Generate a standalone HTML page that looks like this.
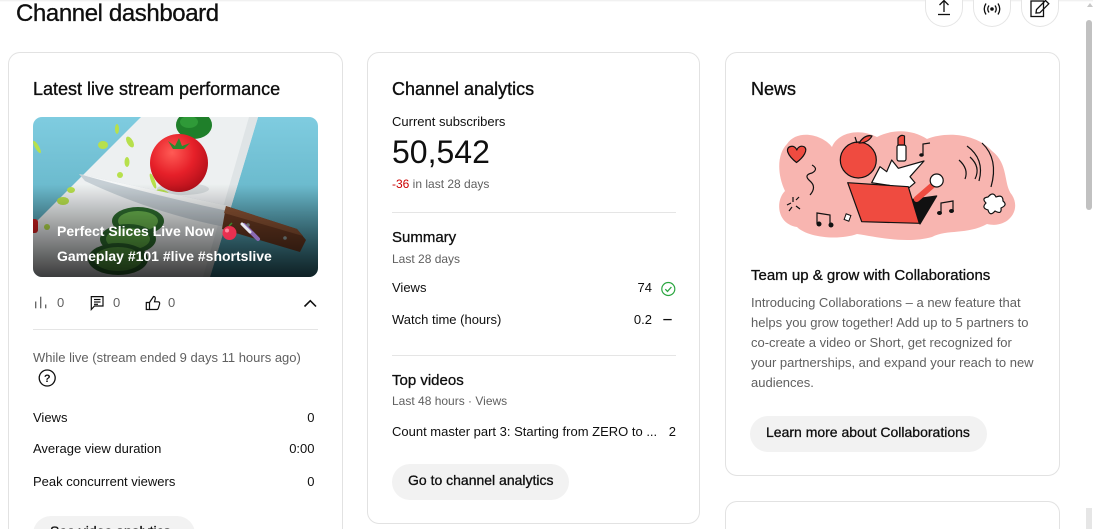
<!DOCTYPE html>
<html><head><meta charset="utf-8">
<style>
*{margin:0;padding:0;box-sizing:border-box}
html,body{width:1093px;height:529px;overflow:hidden;background:#fff}
body{font-family:"Liberation Sans",Arial,sans-serif;color:#0f0f0f}
#root{position:relative;width:1093px;height:529px;overflow:hidden;background:#fff}
.a{position:absolute;white-space:nowrap}
.card{position:absolute;border:1px solid #e2e2e2;border-radius:12px;background:#fff}
.h18{font-size:18px;line-height:24px;-webkit-text-stroke:0.35px #0f0f0f}
.t13{font-size:13px;line-height:20px}
.t12{font-size:12px;line-height:16px;color:#606060}
.s13{font-size:13px;line-height:20px;color:#606060}
.h15{font-size:15px;line-height:20px;-webkit-text-stroke:0.3px #0f0f0f}
.btn{position:absolute;background:#f2f2f2;border-radius:18px;height:36px}
.bt{font-size:14px;line-height:20px;-webkit-text-stroke:0.3px #0f0f0f}
.hr{position:absolute;height:1px;background:#e5e5e5}
.r{text-align:right}
.circ{position:absolute;width:38px;height:27px;border-radius:0 0 19px 19px;border:1px solid #e5e5e5;border-top:none;background:#fff;top:0}
</style></head><body><div id="root">

<!-- header -->
<div class="a" style="left:0;top:0;width:1093px;height:2px;background:linear-gradient(#ececec,#fff)"></div>
<div class="a" style="left:16px;top:0;height:29px;overflow:hidden;width:230px"><div class="a" style="left:0;top:-1.3px;font-size:24px;line-height:30px;letter-spacing:-0.4px;-webkit-text-stroke:0.3px #0f0f0f">Channel dashboard</div></div>

<div class="circ" style="left:925px"></div>
<div class="circ" style="left:973px"></div>
<div class="circ" style="left:1021px"></div>
<svg class="a" style="left:925px;top:0" width="140" height="28" viewBox="925 0 140 28">
  <g fill="none" stroke="#0f0f0f" stroke-width="1.3">
    <line x1="944" y1="1" x2="944" y2="12"/>
    <polyline points="939.5,5 944,0.5 948.5,5"/>
    <line x1="938" y1="14.5" x2="950" y2="14.5"/>
    <path d="M986,3.5 Q982.5,9 986,14.5"/>
    <path d="M989,5.5 Q986.5,9 989,12.5"/>
    <path d="M998,3.5 Q1001.5,9 998,14.5"/>
    <path d="M995,5.5 Q997.5,9 995,12.5"/>
    <rect x="1031" y="1" width="12.5" height="15.5"/>
    <path d="M1036,13 L1036.5,9.5 L1045.5,0.5 L1048.8,3.8 L1039.8,12.8 Z"/>
  </g>
  <circle cx="992" cy="9" r="1.8" fill="#0f0f0f"/>
</svg>

<!-- scrollbar -->
<div class="a" style="left:1087px;top:3px;width:0;height:0;border-left:3px solid transparent;border-right:3px solid transparent;border-bottom:4px solid #c8c8c8"></div>
<div class="a" style="left:1086px;top:20px;width:6px;height:190px;border-radius:3px;background:#c1c1c1"></div>
<div class="a" style="left:1086px;top:508px;width:6px;height:21px;background:#e6e6e6"></div>

<!-- CARD 1 -->
<div class="card" style="left:8px;top:52px;width:335px;height:478px;border-bottom:none;border-radius:12px 12px 0 0"></div>
<div class="a h18" style="left:33px;top:77px">Latest live stream performance</div>

<svg class="a" style="left:33px;top:117px" width="285" height="160" viewBox="0 0 285 160">
<defs>
<clipPath id="cl"><rect width="285" height="160" rx="9"/></clipPath>
<linearGradient id="sky" x1="0" y1="0" x2="0" y2="1">
<stop offset="0" stop-color="#7fcce0"/><stop offset="0.45" stop-color="#6bbacd"/><stop offset="1" stop-color="#3d8594"/></linearGradient>
<linearGradient id="ov" x1="0" y1="0" x2="0" y2="1"><stop offset="0.42" stop-color="#000" stop-opacity="0"/><stop offset="1" stop-color="#000" stop-opacity="0.75"/></linearGradient>
<radialGradient id="tom" cx="0.38" cy="0.32" r="0.7"><stop offset="0" stop-color="#ff5b55"/><stop offset="0.55" stop-color="#e62029"/><stop offset="1" stop-color="#b5101a"/></radialGradient>
</defs>
<g clip-path="url(#cl)">
<rect width="285" height="160" fill="url(#sky)"/>
<polygon points="108,0 225,0 177,160 -52,160" fill="#edf0f1"/>
<polygon points="225,0 177,160 170,160 216,0" fill="#dfe4e6"/>
<ellipse cx="161" cy="8" rx="18" ry="14" fill="#1f7f2a"/>
<ellipse cx="156" cy="5" rx="9" ry="6" fill="#2f9a38"/>
<ellipse cx="150" cy="72" rx="26" ry="6" fill="#d5dadc"/>
<circle cx="146" cy="46" r="29" fill="url(#tom)"/>
<path d="M135,24 L142,29 L146,21 L149,29 L157,26 L151,32 L140,32 Z" fill="#2a8a2e"/>
<g fill="#b7e04c">
<ellipse cx="70" cy="28" rx="5" ry="4"/>
<ellipse cx="97" cy="25" rx="3" ry="6" transform="rotate(-30 97 25)"/>
<ellipse cx="84" cy="12" rx="2" ry="5"/>
<ellipse cx="94" cy="45" rx="2.5" ry="5"/>
<ellipse cx="87" cy="58" rx="3" ry="3"/>
<ellipse cx="30" cy="84" rx="6" ry="4"/>
<ellipse cx="38" cy="73" rx="4" ry="3"/>
<ellipse cx="4" cy="30" rx="2" ry="7" transform="rotate(-30 4 30)"/>
<ellipse cx="14" cy="110" rx="3" ry="3"/>
<ellipse cx="120" cy="64" rx="2" ry="8" transform="rotate(-20 120 64)"/>
<ellipse cx="130" cy="76" rx="7" ry="3" transform="rotate(20 130 76)"/>
</g>
<rect x="-3" y="102" width="8" height="14" rx="3" fill="#d32020"/>
<g>
<ellipse cx="105" cy="104" rx="26" ry="14" fill="#2e6e2f"/>
<ellipse cx="105" cy="104" rx="20" ry="10" fill="#6bb64f"/>
<ellipse cx="95" cy="122" rx="28" ry="15" fill="#2e6e2f"/>
<ellipse cx="95" cy="122" rx="22" ry="11" fill="#5fae46"/>
<ellipse cx="85" cy="142" rx="30" ry="16" fill="#2b672c"/>
<ellipse cx="85" cy="142" rx="24" ry="12" fill="#58a543"/>
</g>
<path d="M46,57 L196,89 L192,110 Q120,96 52,64 Z" fill="#c6cfd5"/>
<path d="M46,57 L196,89 L195,94 Q120,78 46,57 Z" fill="#f4f6f7"/>
<polygon points="193,89 264,112 273,123 267,135 189,112" fill="#6b3a22"/>
<polygon points="193,89 264,112 270,119 191,96" fill="#8a5233"/>
<circle cx="215" cy="108" r="1.8" fill="#9aa"/>
<circle cx="252" cy="121" r="1.8" fill="#9aa"/>
<rect width="285" height="160" fill="url(#ov)"/>
</g>
</svg>
<div class="a" style="left:57px;top:219.3px;font-size:14px;line-height:25px;font-weight:bold;color:#fff">Perfect Slices Live Now<br>Gameplay #101 #live #shortslive</div>
<svg class="a" style="left:220px;top:222px" width="44" height="20" viewBox="0 0 44 20">
<circle cx="9.5" cy="11" r="7" fill="#e83050"/>
<circle cx="7" cy="8.5" r="2" fill="#ff8aa0"/>
<path d="M9,4 L12,1" stroke="#3a8a2a" stroke-width="1.5"/>
<path d="M24,3 L38,17" stroke="#8a6ab5" stroke-width="4" stroke-linecap="round"/>
<path d="M22,2 L30,10" stroke="#e8e8f0" stroke-width="3" stroke-linecap="round"/>
</svg>

<svg class="a" style="left:30px;top:292px" width="290" height="20" viewBox="30 292 290 20">
<g stroke="#606060" stroke-width="1.3">
<line x1="35.7" y1="301.5" x2="35.7" y2="308.3"/>
<line x1="40.7" y1="296.7" x2="40.7" y2="308.3"/>
<line x1="45.7" y1="304.5" x2="45.7" y2="308.3"/>
</g>
<g fill="none" stroke="#0f0f0f" stroke-width="1.2">
<path d="M91.3,296.6 H103 V306 H94.5 L91.3,309.5 Z"/>
<line x1="94" y1="299.5" x2="100.5" y2="299.5"/>
<line x1="94" y1="302" x2="100.5" y2="302"/>
<line x1="94" y1="304.3" x2="98" y2="304.3"/>
<path d="M146.3,302.5 H149.5 V309.5 H146.3 Z"/>
<path d="M149.5,302.5 L153.5,296.5 Q155.6,296.3 155.2,299 L154.5,301.8 H158.5 Q160,302.2 159.6,304 L158.2,308.5 Q157.7,309.6 156.5,309.5 H149.5"/>
<polyline points="304.5,306.5 310.3,300.7 316,306.5" stroke-width="1.6"/>
</g>
</svg>
<div class="a t13" style="left:57px;top:293px;color:#606060">0</div>
<div class="a t13" style="left:113px;top:293px;color:#606060">0</div>
<div class="a t13" style="left:168px;top:293px;color:#606060">0</div>

<div class="hr" style="left:33px;top:329px;width:285px"></div>
<div class="a s13" style="left:33px;top:347.5px">While live (stream ended 9 days 11 hours ago)</div>
<svg class="a" style="left:37px;top:368px" width="20" height="20" viewBox="37 368 20 20">
<circle cx="47.2" cy="378" r="8" fill="none" stroke="#0f0f0f" stroke-width="1.3"/>
<text x="47.2" y="382" font-family="Liberation Sans, Arial, sans-serif" font-size="11" font-weight="bold" text-anchor="middle" fill="#0f0f0f">?</text>
</svg>

<div class="a t13" style="left:33px;top:407.5px">Views</div>
<div class="a t13 r" style="left:214px;top:407.5px;width:100.5px">0</div>
<div class="a t13" style="left:33px;top:439px">Average view duration</div>
<div class="a t13 r" style="left:214px;top:439px;width:100.5px">0:00</div>
<div class="a t13" style="left:33px;top:471.5px">Peak concurrent viewers</div>
<div class="a t13 r" style="left:214px;top:471.5px;width:100.5px">0</div>
<div class="a" style="left:33px;top:516px;width:162px;height:13px;overflow:hidden">
  <div class="btn" style="left:0;top:0;width:162px"></div>
  <div class="a bt" style="left:17px;top:5px">See video analytics</div>
</div>

<!-- CARD 2 -->
<div class="card" style="left:367px;top:52px;width:333px;height:472px"></div>
<div class="a h18" style="left:392px;top:77px">Channel analytics</div>
<div class="a t13" style="left:392px;top:111.5px">Current subscribers</div>
<div class="a" style="left:392px;top:131.9px;font-size:32px;line-height:40px">50,542</div>
<div class="a t12" style="left:392px;top:175.8px"><span style="color:#cc0000">-36</span> in last 28 days</div>
<div class="hr" style="left:392px;top:212px;width:284px"></div>
<div class="a h15" style="left:392px;top:227.8px">Summary</div>
<div class="a t12" style="left:392px;top:250.8px">Last 28 days</div>
<div class="a t13" style="left:392px;top:277.5px">Views</div>
<div class="a t13 r" style="left:600px;top:277.5px;width:52px">74</div>
<div class="a t13" style="left:392px;top:309.8px">Watch time (hours)</div>
<div class="a t13 r" style="left:600px;top:309.8px;width:52px">0.2</div>
<svg class="a" style="left:660px;top:280px" width="18" height="45" viewBox="660 280 18 45">
<circle cx="668.3" cy="289" r="6.5" fill="none" stroke="#2ba640" stroke-width="1.2"/>
<polyline points="665.3,289.2 667.5,291.4 671.4,287" fill="none" stroke="#2ba640" stroke-width="1.3"/>
<line x1="663.3" y1="319.6" x2="671.7" y2="319.6" stroke="#0f0f0f" stroke-width="1.3"/>
</svg>
<div class="hr" style="left:392px;top:355px;width:284px"></div>
<div class="a h15" style="left:392px;top:370.5px">Top videos</div>
<div class="a t12" style="left:392px;top:393px">Last 48 hours · Views</div>
<div class="a t13" style="left:392px;top:421.5px">Count master part 3: Starting from ZERO to ...</div>
<div class="a t13 r" style="left:640px;top:421.5px;width:36px">2</div>
<div class="btn" style="left:392px;top:464px;width:177px"></div>
<div class="a bt" style="left:408px;top:470px">Go to channel analytics</div>

<!-- CARD 3 -->
<div class="card" style="left:725px;top:52px;width:335px;height:424px"></div>
<div class="a h18" style="left:751px;top:77px">News</div>
<svg class="a" style="left:777px;top:129px" width="240" height="112" viewBox="0 0 240 112">
<path d="M10,15 C20,0 45,5 55,18 C60,5 80,-2 100,8 C115,0 135,0 150,10 C170,2 200,5 215,22 C232,35 226,55 235,66 C245,82 230,100 210,95 C190,106 170,100 155,108 C130,115 100,108 80,105 C60,112 30,108 20,98 C0,95 -2,72 8,62 C0,45 0,25 10,15 Z" fill="#f8b5b0"/>
<g stroke="#111" stroke-width="1.2" stroke-linejoin="round">
<path d="M19.5,33.5 C10,26 8,19 13.5,17.5 C17,16.5 19,19 19.8,21 C21,18 24,16 27.5,18 C31,21 27,28 19.5,33.5 Z" fill="#ef4b40"/>
<circle cx="81.3" cy="31" r="18" fill="#ef4b40"/>
<path d="M82,14 Q88,5 95,7 Q91,14 82,14 Z" fill="#ef4b40"/>
<path d="M80,14 L78,8" fill="none"/>
<rect x="120" y="16" width="9" height="16" rx="2" fill="#fff"/>
<path d="M121,16 L121,9 Q124,5 127.5,7 L127.5,16 Z" fill="#ef4b40"/>
<polygon points="94.7,53.7 103,37.7 109.7,42.7 114.7,31 121.3,39.3 147,32 133,47.7 138,53.7 131.3,59.3" fill="#fff"/>
<polygon points="131.3,71 159.7,67 143,95" fill="#111"/>
<line x1="139.7" y1="70" x2="157" y2="55" stroke="#ef4b40" stroke-width="6" stroke-linecap="round"/>
<circle cx="159.7" cy="51.5" r="6.5" fill="#fff"/>
<polygon points="70.7,53.7 131.3,57.7 142.3,94.3 84.7,92.7" fill="#ef4b40"/>
<path d="M211,68 Q216,62 219,68 Q226,65 226,72 Q231,76 224,79 Q225,86 218,82 Q213,88 211,81 Q204,79 209,74 Q204,69 211,68 Z" fill="#fff"/>
</g>
<g fill="none" stroke="#111" stroke-width="1.2">
<path d="M33,66 Q40,58 33,52 Q26,46 35,44 Q42,40 35,36"/>
<path d="M190,17 Q208,30 202,52"/>
<path d="M193,28 Q204,38 198,50"/>
<path d="M182,31 Q192,40 188,50"/>
<path d="M205,14 Q222,30 214,58"/>
<line x1="16" y1="68" x2="16" y2="73"/>
<line x1="10" y1="76" x2="14" y2="74"/>
<line x1="12" y1="82" x2="15" y2="78"/>
<line x1="19" y1="77" x2="23" y2="80"/>
<line x1="19" y1="71" x2="22" y2="68"/>
<path d="M40,95 L40,84 L53,86 L53,95"/>
<path d="M146,26 L146,15 L153,14"/>
<path d="M164,84 L164,74 L176,72 L176,82"/>
</g>
<g fill="#111">
<circle cx="42" cy="95" r="2.5"/><circle cx="54" cy="96" r="2.5"/>
<ellipse cx="144.5" cy="26" rx="2.3" ry="1.8"/>
<ellipse cx="162.5" cy="84" rx="2.5" ry="2"/><ellipse cx="174.5" cy="82" rx="2.5" ry="2"/>
</g>
<rect x="68" y="85.5" width="5" height="6" transform="rotate(20 70.5 88.5)" fill="#fff" stroke="#111" stroke-width="1"/>
</svg>
<div class="a h15" style="left:751px;top:266px">Team up &amp; grow with Collaborations</div>
<div class="a s13" style="left:751px;top:293px">Introducing Collaborations – a new feature that<br>helps you grow together! Add up to 5 partners to<br>co-create a video or Short, get recognized for<br>your partnerships, and expand your reach to new<br>audiences.</div>
<div class="btn" style="left:750px;top:416px;width:237px"></div>
<div class="a bt" style="left:766px;top:421.8px">Learn more about Collaborations</div>

<!-- CARD 4 -->
<div class="card" style="left:725px;top:501px;width:335px;height:28px;border-bottom:none;border-radius:12px 12px 0 0"></div>

</div></body></html>
